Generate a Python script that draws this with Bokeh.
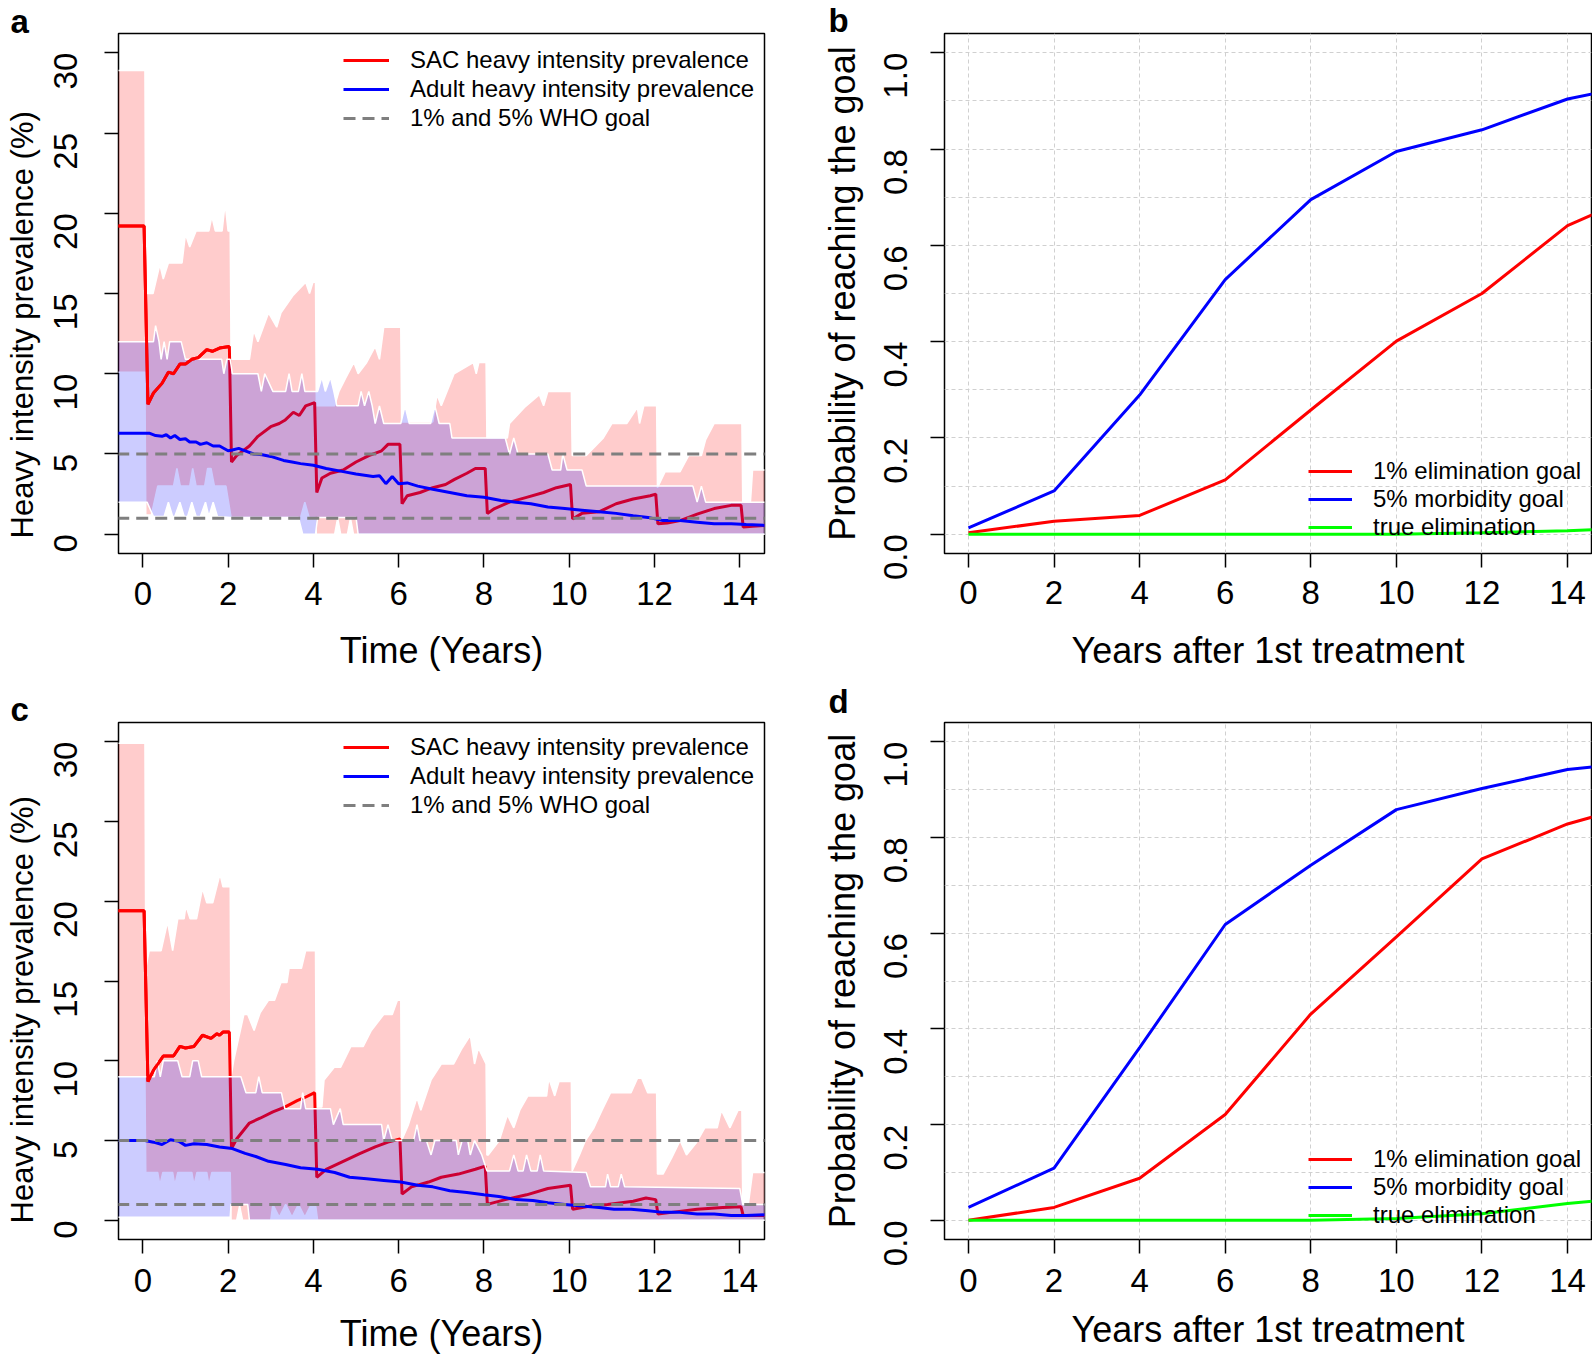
import math
from bokeh.plotting import figure
from bokeh.models import (FixedTicker, PrintfTickFormatter, Legend, LegendItem, Range1d, Title)
from bokeh.layouts import column, row
from bokeh.embed import file_html
from bokeh.resources import INLINE

FONT = "Liberation Sans"

# ---------------- data: panel a (time in years, prevalence %) ----------------
A_SAC_MEAN = [(-0.6, 19.2), (0.03, 19.2), (0.12, 8.1), (0.25, 8.8), (0.45, 9.4), (0.6, 10.1),
              (0.72, 10.0), (0.87, 10.6), (1.0, 10.6), (1.15, 10.9), (1.3, 11.0), (1.5, 11.5),
              (1.63, 11.4), (1.8, 11.6), (2.03, 11.7), (2.08, 4.5), (2.2, 4.9), (2.5, 5.5),
              (2.7, 6.1), (3.0, 6.7), (3.2, 6.9), (3.33, 7.1), (3.53, 7.6), (3.67, 7.4),
              (3.82, 8.0), (4.03, 8.2), (4.08, 2.6), (4.2, 3.5), (4.4, 3.8), (4.7, 4.0),
              (5.0, 4.5), (5.3, 4.9), (5.6, 5.2), (5.75, 5.6), (6.03, 5.6), (6.08, 1.9),
              (6.2, 2.4), (6.5, 2.6), (6.8, 2.9), (7.1, 3.1), (7.3, 3.4), (7.6, 3.8),
              (7.8, 4.1), (8.03, 4.1), (8.08, 1.3), (8.25, 1.6), (8.6, 2.0), (9.0, 2.3),
              (9.4, 2.6), (9.7, 2.9), (10.03, 3.1), (10.08, 0.95), (10.3, 1.3), (10.7, 1.4),
              (11.1, 1.9), (11.5, 2.2), (11.9, 2.4), (12.03, 2.5), (12.08, 0.65), (12.3, 0.7),
              (12.6, 0.85), (13.0, 1.25), (13.4, 1.6), (13.8, 1.8), (14.03, 1.8), (14.08, 0.45),
              (14.3, 0.5), (14.6, 0.55)]
A_ADULT_MEAN = [(-0.6, 6.3), (0.15, 6.3), (0.3, 6.15), (0.45, 6.1), (0.55, 6.2), (0.65, 6.0),
                (0.75, 6.15), (0.87, 5.9), (1.0, 5.95), (1.1, 5.75), (1.25, 5.75), (1.35, 5.6),
                (1.5, 5.7), (1.65, 5.5), (1.8, 5.5), (2.0, 5.2), (2.1, 5.25), (2.25, 5.35),
                (2.4, 5.2), (2.6, 5.0), (2.8, 4.95), (3.0, 4.85), (3.3, 4.6), (3.5, 4.5),
                (3.7, 4.4), (4.0, 4.3), (4.3, 4.1), (4.7, 3.9), (5.0, 3.75), (5.4, 3.6),
                (5.55, 3.65), (5.7, 3.15), (5.85, 3.6), (6.0, 3.15), (6.2, 3.2), (6.45, 3.0),
                (6.8, 2.8), (7.2, 2.6), (7.6, 2.4), (8.0, 2.3), (8.4, 2.1), (8.75, 2.0),
                (9.1, 1.9), (9.5, 1.7), (9.9, 1.6), (10.3, 1.5), (10.7, 1.4), (11.1, 1.3),
                (11.5, 1.15), (11.85, 1.05), (12.2, 0.85), (12.6, 0.85), (13.0, 0.75),
                (13.4, 0.65), (13.8, 0.65), (14.15, 0.6), (14.6, 0.55)]
A_SAC_UPPER = [(-0.6, 28.9), (0.05, 28.9), (0.07, 15.0), (0.24, 15.0), (0.4, 16.8), (0.48, 15.9),
               (0.6, 16.9), (0.92, 16.9), (1.0, 18.7), (1.1, 17.9), (1.25, 18.9), (1.55, 18.9),
               (1.62, 19.8), (1.7, 18.9), (1.86, 18.9), (1.93, 20.6), (2.0, 18.9), (2.05, 18.9),
               (2.07, 10.9), (2.5, 10.9), (2.6, 12.7), (2.7, 12.0), (2.95, 13.8), (3.14, 12.9),
               (3.24, 13.8), (3.53, 14.9), (3.82, 15.7), (3.91, 15.0), (3.99, 15.7), (4.05, 15.7),
               (4.07, 8.0), (4.5, 8.0), (4.6, 8.9), (4.75, 9.7), (4.95, 10.7), (5.05, 10.0),
               (5.25, 10.7), (5.45, 11.7), (5.55, 10.9), (5.65, 12.9), (6.05, 12.9),
               (6.07, 7.0), (6.8, 7.0), (6.9, 8.7), (7.0, 8.0), (7.3, 10.0), (7.75, 10.7),
               (7.82, 10.0), (7.88, 10.7), (8.05, 10.7),
               (8.07, 6.0), (8.55, 6.0), (8.6, 6.9), (8.95, 7.9), (9.3, 8.7), (9.4, 8.0),
               (9.5, 8.9), (10.05, 8.9),
               (10.07, 4.9), (10.4, 4.9), (10.8, 6.0), (11.0, 6.9), (11.35, 6.9), (11.6, 7.9),
               (11.65, 6.9), (11.75, 8.0), (12.05, 8.0),
               (12.07, 2.9), (12.25, 3.9), (12.6, 3.9), (12.8, 4.9), (13.1, 4.9), (13.2, 5.9),
               (13.4, 6.9), (14.05, 6.9),
               (14.07, 2.0), (14.25, 2.0), (14.3, 4.0), (14.6, 4.0)]
A_SAC_LOWER = [(-0.6, 10.1), (0.05, 10.1), (0.07, 1.2), (0.2, 1.2), (0.35, 3.0), (0.72, 3.0),
               (0.8, 4.1), (0.88, 3.0), (1.1, 3.0), (1.17, 4.1), (1.25, 3.0), (1.45, 3.0),
               (1.52, 4.1), (1.6, 4.1), (1.68, 3.0), (1.95, 3.0), (2.07, 1.05), (3.7, 1.05),
               (3.8, 2.0), (3.9, 1.05), (4.05, 1.05), (4.07, 0.0), (4.5, 0.0), (4.57, 1.0),
               (4.64, 0.0), (4.8, 0.0), (4.87, 1.0), (4.94, 0.0), (14.6, 0.0)]
A_ADULT_UPPER = [(-0.6, 12.0), (0.25, 12.0), (0.3, 13.0), (0.38, 12.0), (0.43, 10.9), (0.5, 12.0),
                 (0.57, 10.9), (0.63, 12.0), (0.9, 12.0), (1.0, 10.9), (1.85, 10.9), (1.9, 10.0),
                 (1.97, 10.9), (2.05, 10.9), (2.1, 10.0), (2.7, 10.0), (2.78, 8.9), (2.86, 10.0),
                 (3.05, 8.9), (3.35, 8.9), (3.43, 10.0), (3.5, 8.9), (3.65, 8.9), (3.73, 10.0),
                 (3.8, 8.9), (4.1, 8.9), (4.2, 9.8), (4.28, 8.9), (4.4, 9.8), (4.48, 8.9),
                 (4.55, 8.0), (5.05, 8.0), (5.12, 8.9), (5.2, 8.0), (5.3, 8.9), (5.38, 8.0),
                 (5.45, 6.9), (5.55, 8.0), (5.65, 6.9), (6.05, 6.9), (6.15, 8.0), (6.25, 6.9),
                 (6.75, 6.9), (6.85, 8.0), (6.95, 6.9), (7.2, 6.9), (7.25, 6.0), (8.5, 6.0),
                 (8.6, 5.0), (8.7, 6.0), (8.8, 5.0), (9.5, 5.0), (9.6, 4.0), (9.8, 4.0),
                 (9.85, 5.0), (9.95, 4.0), (10.3, 4.0), (10.4, 3.0), (12.9, 3.0), (13.0, 2.0),
                 (13.1, 3.0), (13.2, 2.0), (14.6, 2.0)]
A_ADULT_LOWER = [(-0.6, 2.0), (0.1, 2.0), (0.25, 1.1), (0.5, 1.1), (0.6, 2.0), (0.7, 1.1),
                 (0.75, 1.1), (0.87, 2.0), (0.97, 1.1), (1.05, 1.1), (1.15, 2.0), (1.25, 1.1),
                 (1.35, 1.1), (1.47, 2.0), (1.55, 1.1), (1.65, 2.0), (1.75, 1.1), (2.05, 1.05),
                 (3.65, 1.05), (3.75, 0.0), (4.05, 0.0), (4.1, 1.05), (5.0, 1.05), (5.05, 0.0),
                 (14.6, 0.0)]

# ---------------- data: panel c ----------------
C_SAC_MEAN = [(-0.6, 19.4), (0.03, 19.4), (0.12, 8.7), (0.25, 9.4), (0.48, 10.3), (0.72, 10.3),
              (0.87, 10.9), (1.0, 10.8), (1.2, 10.9), (1.4, 11.6), (1.6, 11.4), (1.74, 11.7),
              (1.8, 11.6), (1.88, 11.8), (2.03, 11.8), (2.08, 4.5), (2.2, 5.1), (2.5, 6.1),
              (2.75, 6.4), (3.05, 6.8), (3.33, 7.1), (3.62, 7.5), (3.8, 7.7), (4.03, 8.0),
              (4.08, 2.7), (4.3, 3.2), (4.7, 3.7), (5.1, 4.2), (5.45, 4.6), (5.75, 4.9),
              (6.03, 5.1), (6.08, 1.65), (6.3, 2.1), (6.7, 2.4), (7.0, 2.7), (7.4, 2.9),
              (7.8, 3.2), (8.03, 3.4), (8.08, 1.0), (8.5, 1.3), (9.0, 1.6), (9.5, 2.0),
              (10.03, 2.2), (10.08, 0.7), (10.5, 0.9), (10.9, 1.0), (11.5, 1.2), (11.8, 1.4),
              (12.03, 1.3), (12.08, 0.4), (12.4, 0.5), (13.0, 0.7), (13.6, 0.8), (14.03, 0.85),
              (14.08, 0.3), (14.6, 0.3)]
C_ADULT_MEAN = [(-0.6, 5.0), (0.05, 5.0), (0.25, 4.9), (0.45, 4.75), (0.65, 5.05), (0.85, 4.95),
                (1.0, 4.7), (1.2, 4.8), (1.5, 4.75), (1.8, 4.6), (2.1, 4.5), (2.4, 4.2),
                (2.65, 4.0), (2.95, 3.7), (3.35, 3.5), (3.7, 3.3), (4.1, 3.2), (4.5, 3.0),
                (4.85, 2.7), (5.25, 2.6), (5.65, 2.5), (6.05, 2.4), (6.45, 2.2), (6.8, 2.1),
                (7.2, 1.85), (7.6, 1.75), (8.0, 1.6), (8.35, 1.5), (8.75, 1.3), (9.15, 1.25),
                (9.5, 1.1), (9.9, 1.0), (10.3, 0.9), (10.7, 0.8), (11.05, 0.7), (11.45, 0.7),
                (11.85, 0.6), (12.2, 0.5), (12.6, 0.5), (13.0, 0.4), (13.4, 0.4), (13.8, 0.3),
                (14.15, 0.3), (14.6, 0.35)]
C_SAC_UPPER = [(-0.6, 29.9), (0.05, 29.9), (0.07, 15.8), (0.15, 16.9), (0.43, 16.9), (0.58, 18.7),
               (0.7, 16.9), (0.82, 18.9), (0.97, 18.9), (1.01, 19.7), (1.11, 18.9), (1.26, 18.9),
               (1.4, 20.8), (1.5, 19.9), (1.64, 19.9), (1.81, 21.7), (1.88, 20.9), (2.05, 20.9),
               (2.07, 9.0), (2.13, 10.0), (2.37, 12.9), (2.46, 12.9), (2.61, 11.9), (2.75, 13.0),
               (2.95, 13.8), (3.09, 13.8), (3.24, 14.9), (3.38, 14.9), (3.43, 15.8), (3.72, 15.8),
               (3.82, 16.9), (4.05, 16.9),
               (4.07, 7.1), (4.2, 7.1), (4.25, 8.8), (4.49, 9.6), (4.64, 9.6), (4.88, 10.9),
               (5.17, 10.9), (5.36, 11.9), (5.65, 12.9), (5.85, 12.9), (5.97, 13.8), (6.05, 13.8),
               (6.07, 5.0), (6.23, 6.0), (6.43, 7.7), (6.52, 6.9), (6.76, 8.8), (7.0, 9.8),
               (7.29, 9.8), (7.49, 10.8), (7.68, 11.6), (7.78, 9.8), (7.87, 10.8), (8.05, 9.8),
               (8.07, 4.1), (8.1, 4.1), (8.36, 5.0), (8.55, 6.6), (8.7, 5.8), (8.84, 6.9),
               (9.03, 7.8), (9.47, 7.8), (9.52, 8.9), (9.66, 7.8), (9.76, 8.7), (10.05, 8.7),
               (10.07, 3.1), (10.24, 4.1), (10.38, 5.0), (10.58, 5.8), (10.77, 6.9), (10.97, 8.0),
               (11.45, 8.0), (11.6, 8.9), (11.7, 8.9), (11.84, 8.0), (12.05, 8.0),
               (12.07, 2.9), (12.2, 2.9), (12.4, 3.9), (12.6, 5.0), (12.75, 4.1), (12.99, 4.9),
               (13.18, 5.8), (13.47, 5.8), (13.57, 6.9), (13.77, 5.8), (13.96, 6.9), (14.05, 6.9),
               (14.07, 1.0), (14.2, 1.0), (14.3, 3.0), (14.6, 3.0)]
C_SAC_LOWER = [(-0.6, 9.0), (0.05, 9.0), (0.07, 3.0), (0.35, 3.0), (0.4, 2.2), (0.47, 3.0),
               (0.7, 3.0), (0.75, 2.2), (0.82, 3.0), (1.15, 3.0), (1.2, 2.2), (1.27, 3.0),
               (1.5, 3.0), (1.55, 2.2), (1.62, 3.0), (2.05, 3.0), (2.07, 0.0), (2.2, 0.0),
               (2.27, 0.9), (2.34, 0.0), (3.0, 0.0), (3.05, 1.0), (3.2, 0.2), (3.35, 1.0),
               (3.5, 0.2), (3.65, 1.0), (3.8, 0.2), (3.95, 1.0), (4.05, 1.0), (4.1, 0.0),
               (14.6, 0.0)]
C_ADULT_UPPER = [(-0.6, 9.0), (0.27, 9.0), (0.34, 10.0), (0.41, 9.0), (0.48, 10.0), (0.82, 10.0),
                 (0.92, 9.0), (1.1, 9.0), (1.17, 10.0), (1.3, 10.0), (1.38, 9.0), (2.3, 9.0),
                 (2.42, 8.0), (2.65, 8.0), (2.72, 9.0), (2.8, 8.0), (3.25, 8.0), (3.33, 7.0),
                 (3.7, 7.0), (3.75, 8.0), (3.82, 7.0), (4.4, 7.0), (4.47, 6.0), (4.63, 7.0),
                 (4.7, 6.0), (5.6, 6.0), (5.65, 5.0), (5.75, 6.0), (5.85, 5.0), (6.35, 5.0),
                 (6.43, 6.0), (6.5, 5.0), (6.65, 5.0), (6.76, 4.1), (6.85, 5.0), (7.35, 5.0),
                 (7.4, 4.1), (7.49, 5.0), (7.62, 5.0), (7.68, 4.1), (7.78, 5.0), (7.95, 4.1),
                 (8.07, 3.1), (8.6, 3.1), (8.7, 4.1), (8.8, 3.1), (8.92, 3.1), (9.0, 4.1),
                 (9.1, 3.1), (9.25, 3.1), (9.32, 4.1), (9.4, 3.1), (10.4, 3.0), (10.5, 2.1),
                 (10.85, 2.1), (10.9, 2.9), (10.97, 2.1), (11.15, 2.1), (11.22, 2.9), (11.3, 2.1),
                 (14.0, 2.0), (14.07, 1.0), (14.6, 1.0)]
C_ADULT_LOWER = [(-0.6, 0.2), (2.05, 0.2), (2.07, 1.0), (2.46, 1.0), (2.5, 0.0), (14.6, 0.0)]

# ---------------- data: panels b and d (probability of reaching goal) ----------------
YEARS_BD = [0, 2, 4, 6, 8, 10, 12, 14, 15]
B_ELIM_1PCT = [0.003, 0.027, 0.039, 0.113, 0.258, 0.401, 0.500, 0.641, 0.680]
B_MORB_5PCT = [0.013, 0.090, 0.289, 0.529, 0.695, 0.795, 0.840, 0.904, 0.922]
B_TRUE_ELIM = [0.0, 0.0, 0.0, 0.0, 0.0, 0.0, 0.003, 0.007, 0.011]
D_ELIM_1PCT = [0.0, 0.027, 0.088, 0.221, 0.431, 0.592, 0.755, 0.828, 0.853]
D_MORB_5PCT = [0.027, 0.109, 0.361, 0.618, 0.742, 0.858, 0.902, 0.942, 0.951]
D_TRUE_ELIM = [0.0, 0.0, 0.0, 0.0, 0.0, 0.004, 0.014, 0.035, 0.044]

WHO_GOALS = [1, 5]
SECOND_ROUND = 2.05          # time of the second treatment round
X_TICKS = [0, 2, 4, 6, 8, 10, 12, 14]
PREV_TICKS = [0, 5, 10, 15, 20, 25, 30]
PROB_TICKS = [0.0, 0.2, 0.4, 0.6, 0.8, 1.0]
PROB_MINOR = [0.1, 0.3, 0.5, 0.7, 0.9]

LEG_PREV = ["SAC heavy intensity prevalence", "Adult heavy intensity prevalence", "1% and 5% WHO goal"]
LEG_PROB = ["1% elimination goal", "5% morbidity goal", "true elimination"]
PREV_YLABEL = "Heavy intensity prevalence (%)"


def unzip(pairs):
    return [a for a, _ in pairs], [b for _, b in pairs]


def band(upper, lower):
    ut, uv = unzip(upper)
    lt, lv = unzip(lower)
    return ut + lt[::-1], uv + lv[::-1]


def base_fig(w, h, xr, yr, bl, br, bt, bb):
    p = figure(width=w, height=h, x_range=Range1d(*xr), y_range=Range1d(*yr),
               output_backend="svg", toolbar_location=None,
               min_border_left=bl, min_border_right=br, min_border_top=bt, min_border_bottom=bb)
    p.outline_line_color = "black"
    p.outline_line_width = 1.5
    p.background_fill_color = "white"
    p.border_fill_color = "white"
    for ax in (p.xaxis[0], p.yaxis[0]):
        ax.axis_line_color = None
        ax.major_tick_line_color = "black"
        ax.major_tick_line_width = 1.5
        ax.major_tick_out = 14
        ax.major_tick_in = 0
        ax.minor_tick_line_color = None
        ax.major_label_text_font = FONT
        ax.major_label_text_font_size = "33px"
        ax.major_label_text_color = "black"
        ax.axis_label_text_font = FONT
        ax.axis_label_text_font_style = "normal"
        ax.axis_label_text_color = "black"
    p.yaxis.major_label_orientation = math.pi / 2
    p.xaxis.ticker = FixedTicker(ticks=X_TICKS)
    return p


def panel_letter(p, txt, offset, standoff):
    t = p.title
    t.text = txt
    t.text_font = FONT
    t.text_font_style = "bold"
    t.text_font_size = "33px"
    t.text_color = "black"
    t.align = "left"
    t.vertical_align = "top"
    t.offset = offset
    t.standoff = standoff


def add_legend(p, labels, rends, loc, gw, spacing):
    lg = Legend(items=[LegendItem(label=l, renderers=[r]) for l, r in zip(labels, rends)],
                location=loc, label_text_font=FONT, label_text_font_size="24px",
                label_text_color="black", glyph_width=gw, glyph_height=28, label_height=28,
                label_standoff=21, spacing=spacing, padding=8, margin=0,
                background_fill_alpha=0.0, border_line_color=None)
    p.add_layout(lg)


def prevalence_panel(w, h, bt, bb, sac_mean, adult_mean, sac_up, sac_lo, ad_up, ad_lo,
                     leg_loc, letter, letter_off, letter_std, xs1, xs2, ylab_off):
    p = base_fig(w, h, (-0.57, 14.58), (-1.2, 31.2), 118, 36, bt, bb)
    p.grid.visible = False
    p.yaxis.ticker = FixedTicker(ticks=PREV_TICKS)
    p.xaxis.axis_label = "Time (Years)"
    p.xaxis.axis_label_text_font_size = "36px"
    p.xaxis.major_label_standoff = xs1
    p.xaxis.axis_label_standoff = xs2
    p.yaxis.major_label_standoff = 39
    p.add_layout(Title(text=PREV_YLABEL, align="left", vertical_align="bottom",
                       offset=ylab_off, standoff=0, text_font=FONT, text_font_size="31px",
                       text_font_style="normal", text_color="black"), "left")

    bx, by = band(sac_up, sac_lo)
    p.patch(bx, by, fill_color="red", fill_alpha=0.2, line_color="white", line_width=1.5)
    st, sv = unzip(sac_mean)
    r_sac = p.line(st, sv, line_color="#FF0000", line_width=3)
    ax_, ay_ = band(ad_up, ad_lo)
    p.patch(ax_, ay_, fill_color="blue", fill_alpha=0.2, line_color="white", line_width=1.5)
    # first treatment interval of the SAC mean is drawn above the adult band
    ft, fv = unzip([pt for pt in sac_mean if pt[0] <= SECOND_ROUND])
    p.line(ft, fv, line_color="#FF0000", line_width=3)
    at, av = unzip(adult_mean)
    r_ad = p.line(at, av, line_color="#0000FF", line_width=3)
    span_x = [st[0], st[-1]]
    r_goal = None
    for g in WHO_GOALS:
        r = p.line(span_x, [g, g], line_color="#7F7F7F", line_width=3, line_dash="12 7")
        r_goal = r_goal or r
    add_legend(p, LEG_PREV, [r_sac, r_ad, r_goal], leg_loc, 46, 1)
    panel_letter(p, letter, letter_off, letter_std)
    return p


def prob_panel(w, h, bt, bb, elim, morb, true_e, leg_loc, letter, letter_off, letter_std,
               xs1, xs2):
    p = base_fig(w, h, (-0.56, 14.56), (-0.04, 1.04), 144, 1, bt, bb)
    p.yaxis.ticker = FixedTicker(ticks=PROB_TICKS, minor_ticks=PROB_MINOR)
    p.yaxis.formatter = PrintfTickFormatter(format="%.1f")
    p.grid.grid_line_color = "#D0D0D0"
    p.grid.grid_line_dash = "4 3"
    p.grid.grid_line_width = 1
    p.ygrid.minor_grid_line_color = "#D0D0D0"
    p.ygrid.minor_grid_line_dash = "4 3"
    p.ygrid.minor_grid_line_width = 1
    p.xaxis.axis_label = "Years after 1st treatment"
    p.xaxis.axis_label_text_font_size = "36px"
    p.xaxis.major_label_standoff = xs1
    p.xaxis.axis_label_standoff = xs2
    p.yaxis.axis_label = "Probability of reaching the goal"
    p.yaxis.axis_label_text_font_size = "36px"
    p.yaxis.major_label_standoff = 35
    p.yaxis.axis_label_standoff = 7
    r1 = p.line(YEARS_BD, elim, line_color="#FF0000", line_width=3)
    r2 = p.line(YEARS_BD, morb, line_color="#0000FF", line_width=3)
    r3 = p.line(YEARS_BD, true_e, line_color="#00FF00", line_width=3)
    add_legend(p, LEG_PROB, [r1, r2, r3], leg_loc, 44, 0)
    panel_letter(p, letter, letter_off, letter_std)
    return p


pa = prevalence_panel(800, 680, 32, 127, A_SAC_MEAN, A_ADULT_MEAN, A_SAC_UPPER, A_SAC_LOWER,
                      A_ADULT_UPPER, A_ADULT_LOWER, (225, 421), "a", -108, -17, 14, 22, 15)
pb = prob_panel(792, 680, 33, 124, B_ELIM_1PCT, B_MORB_5PCT, B_TRUE_ELIM, (364, 12), "b",
                -116, -15, 13, 23)
pc = prevalence_panel(800, 677, 39, 118, C_SAC_MEAN, C_ADULT_MEAN, C_SAC_UPPER, C_SAC_LOWER,
                      C_ADULT_UPPER, C_ADULT_LOWER, (225, 420), "c", -108, -15, 15, 18, 16)
pd = prob_panel(792, 677, 42, 114, D_ELIM_1PCT, D_MORB_5PCT, D_TRUE_ELIM, (364, 10), "d",
                -116, 2, 15, 14)

layout = column(row(pa, pb), row(pc, pd))
open("out.html", "w").write(file_html(layout, INLINE))
